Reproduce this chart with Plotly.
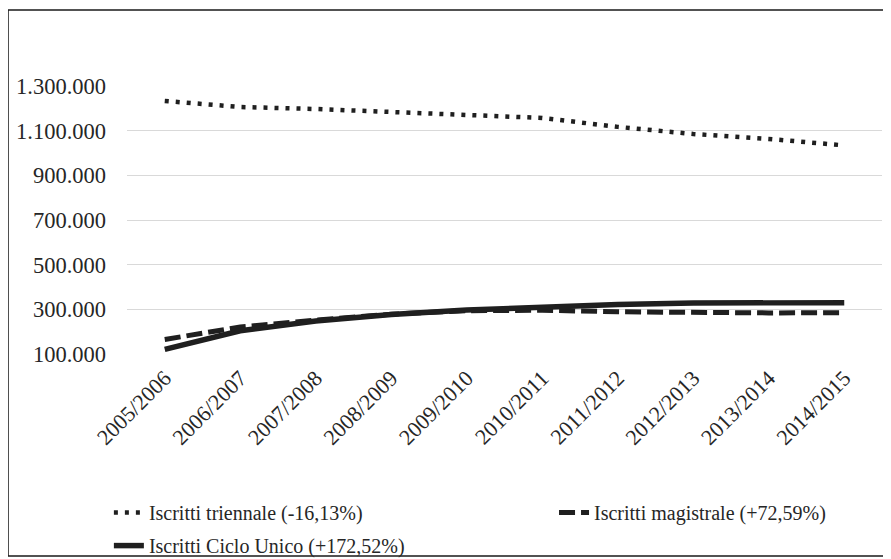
import plotly.graph_objects as go

anni = ["2005/2006", "2006/2007", "2007/2008", "2008/2009", "2009/2010",
        "2010/2011", "2011/2012", "2012/2013", "2013/2014", "2014/2015"]

triennale = [1233000, 1206000, 1197000, 1184000, 1175000,
             1157000, 1117000, 1085000, 1063000, 1034000]
magistrale = [165000, 221000, 252000, 278000, 294000,
              296000, 289000, 285000, 284000, 285000]
ciclo_unico = [121000, 204000, 248000, 277000, 297000,
               311000, 322000, 328000, 330000, 330000]

y_ticks = [100000, 300000, 500000, 700000, 900000, 1100000, 1300000]

serif = "Liberation Serif"
ink = "#262626"

# the page body has an 8px margin, so the figure is 8px smaller on each axis
trace1 = go.Scatter(x=anni, y=triennale, mode="lines",
                    name="Iscritti triennale (-16,13%)",
                    legend="legend", legendgroup="a",
                    line=dict(color="#1f1f1f", width=4.5, dash="4px,7px"))
trace2 = go.Scatter(x=anni, y=magistrale, mode="lines",
                    name="Iscritti magistrale (+72,59%)",
                    legend="legend2", legendgroup="c",
                    line=dict(color="#1f1f1f", width=5, dash="16px,6px"))
trace3 = go.Scatter(x=anni, y=ciclo_unico, mode="lines",
                    name="Iscritti Ciclo Unico (+172,52%)",
                    legend="legend", legendgroup="b",
                    line=dict(color="#1f1f1f", width=5.5))

legend_style = dict(orientation="v", yanchor="top", xanchor="left",
                    font=dict(family=serif, size=20, color=ink),
                    bgcolor="rgba(0,0,0,0)", tracegroupgap=4)

layout = go.Layout(
    width=883, height=551,
    margin=dict(l=119, r=9, t=78, b=205, autoexpand=False),
    paper_bgcolor="white", plot_bgcolor="white",
    separators=",.",
    font=dict(family=serif, size=21, color=ink),
    showlegend=True,
    xaxis=dict(tickangle=-45, showgrid=False, showline=False, ticks="",
               ticklabelstandoff=6,
               tickfont=dict(family=serif, size=22, color=ink),
               range=[-0.5, 9.5]),
    yaxis=dict(range=[100000, 1300000], tickvals=y_ticks, tickformat=",d",
               showgrid=True, gridcolor="#d9d9d9", gridwidth=1.3,
               zeroline=False, showline=False, ticks="",
               ticklabelstandoff=20,
               tickfont=dict(family=serif, size=22.5, color=ink)),
    legend=dict(x=-0.024, y=-0.519, **legend_style),
    legend2=dict(x=0.5656, y=-0.519, **legend_style),
    shapes=[dict(type="rect", xref="paper", yref="paper",
                 x0=-0.1576, x1=1.0026, y0=-0.7537, y1=1.2836,
                 line=dict(color="#1a1a1a", width=1.5))],
)

fig = go.Figure(data=[trace1, trace2, trace3], layout=layout)
fig.write_html("out.html")
